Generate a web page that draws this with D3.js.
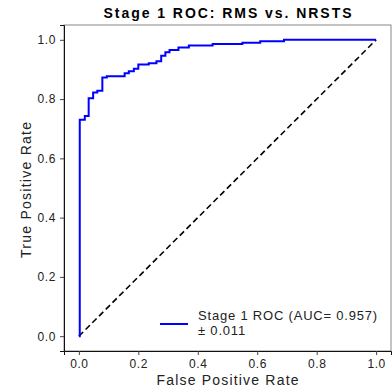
<!DOCTYPE html>
<html>
<head>
<meta charset="utf-8">
<script src="https://cdn.jsdelivr.net/npm/d3@7"></script>
<style>
  body { margin: 0; background: #fff; }
  text { font-family: "Liberation Sans", Arial, sans-serif; }
</style>
</head>
<body>
<div id="chart"></div>
<script>
let width = 392
let height = 389

// step points of the ROC curve (false positive rate, true positive rate)
const fpr = [0, 0.003, 0.003, 0.02, 0.02, 0.033, 0.033, 0.048, 0.048, 0.062, 0.062, 0.079, 0.079,
  0.094, 0.094, 0.154, 0.154, 0.168, 0.168, 0.185, 0.185, 0.2, 0.2, 0.235, 0.235, 0.261, 0.261,
  0.277, 0.277, 0.291, 0.291, 0.305, 0.305, 0.335, 0.335, 0.37, 0.37, 0.45, 0.45, 0.55, 0.55,
  0.61, 0.61, 0.69, 0.69, 1.0]
const tpr = [0, 0, 0.73, 0.73, 0.743, 0.743, 0.803, 0.803, 0.822, 0.822, 0.828, 0.828, 0.873,
  0.873, 0.877, 0.877, 0.887, 0.887, 0.894, 0.894, 0.902, 0.902, 0.917, 0.917, 0.921, 0.921, 0.928,
  0.928, 0.946, 0.946, 0.958, 0.958, 0.966, 0.966, 0.974, 0.974, 0.981, 0.981, 0.986, 0.986, 0.99,
  0.99, 0.995, 0.995, 1.0, 1.0]
const chance = [0, 1]
const ticks = [0, 0.2, 0.4, 0.6, 0.8, 1.0]
const title = "Stage 1 ROC: RMS vs. NRSTS"
const legendLines = ["Stage 1 ROC (AUC= 0.957)", "± 0.011"]

const margin = {left: 64, right: 1, top: 25, bottom: 38}

const svg = d3.select("#chart")
  .append("svg")
  .attr("width", width)
  .attr("height", height)

const x = d3.scaleLinear()
  .domain([-0.05, 1.05])
  .range([margin.left, width - margin.right])
const y = d3.scaleLinear()
  .domain([-0.05, 1.05])
  .range([height - margin.bottom, margin.top])

// frame
svg.append("rect")
  .attr("x", x(-0.05)).attr("y", y(1.05))
  .attr("width", x(1.05) - x(-0.05)).attr("height", y(-0.05) - y(1.05))
  .attr("fill", "none").attr("stroke", "#888").attr("stroke-width", 1)

const xAxis = svg.append("g")
  .attr("transform", `translate(0,${y(-0.05)})`)
  .call(d3.axisBottom(x).tickValues(ticks).tickFormat(d3.format(".1f")).tickSize(4).tickPadding(4))
const yAxis = svg.append("g")
  .attr("transform", `translate(${x(-0.05)},0)`)
  .call(d3.axisLeft(y).tickValues(ticks).tickFormat(d3.format(".1f")).tickSize(4).tickPadding(4))

for (const ax of [xAxis, yAxis]) {
  ax.selectAll("text").style("font-size", "12px").style("letter-spacing", "0.6px").attr("fill", "#222")
  ax.selectAll(".tick line").attr("stroke", "#444")
  ax.select(".domain").attr("stroke", "#111")
}

// chance line
svg.append("line")
  .attr("x1", x(chance[0])).attr("y1", y(chance[0]))
  .attr("x2", x(chance[1])).attr("y2", y(chance[1]))
  .attr("stroke", "#000").attr("stroke-width", 1.6)
  .attr("stroke-dasharray", "6,3.5")

// ROC curve
const pts = fpr.map((f, i) => [f, tpr[i]])
svg.append("path")
  .datum(pts)
  .attr("d", d3.line().x(d => x(d[0])).y(d => y(d[1])))
  .attr("fill", "none")
  .attr("stroke", "#0000ff")
  .attr("stroke-width", 2)

// title + axis labels
const cx = (x(-0.05) + x(1.05)) / 2
svg.append("text")
  .attr("x", cx).attr("y", 18)
  .attr("text-anchor", "middle")
  .attr("textLength", 248).attr("lengthAdjust", "spacing")
  .style("font-size", "14px").style("font-weight", "bold")
  .text(title)
svg.append("text")
  .attr("x", cx).attr("y", 385)
  .attr("text-anchor", "middle")
  .attr("textLength", 142).attr("lengthAdjust", "spacing")
  .style("font-size", "14px").attr("fill", "#222")
  .text("False Positive Rate")
svg.append("text")
  .attr("transform", `translate(31,${(y(-0.05) + y(1.05)) / 2 + 2}) rotate(-90)`)
  .attr("text-anchor", "middle")
  .attr("textLength", 136).attr("lengthAdjust", "spacing")
  .style("font-size", "14px").attr("fill", "#222")
  .text("True Positive Rate")

// legend
const leg = svg.append("g").attr("transform", "translate(160,324)")
leg.append("line").attr("x1", 0).attr("x2", 28).attr("y1", 0).attr("y2", 0)
  .attr("stroke", "#0000ff").attr("stroke-width", 2)
leg.selectAll("text.l")
  .data(legendLines)
  .enter()
  .append("text")
  .attr("x", 38).attr("y", (d, i) => -4 + i * 15)
  .style("font-size", "13px").style("letter-spacing", "0.8px").attr("fill", "#222")
  .text(d => d)
</script>
</body>
</html>
